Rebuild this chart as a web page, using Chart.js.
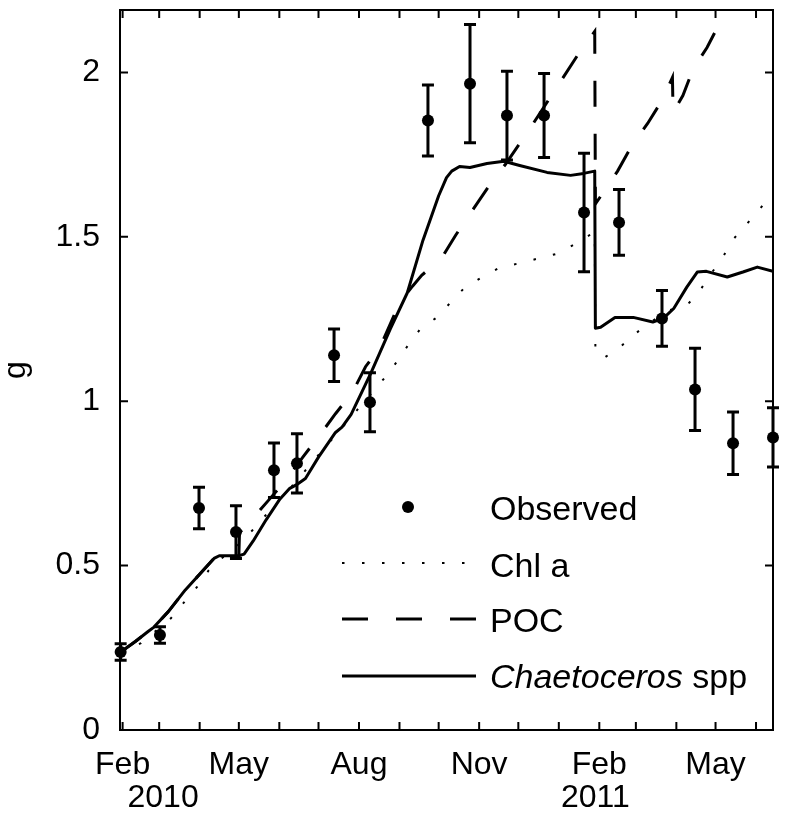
<!DOCTYPE html>
<html>
<head>
<meta charset="utf-8">
<script src="https://cdn.jsdelivr.net/npm/chart.js@4"></script>
<style>
  html, body { margin: 0; padding: 0; background: #fff; }
</style>
</head>
<body>
<canvas id="myChart" width="790" height="818"></canvas>
<script>
// x values are days counted from 1 Feb 2010
const monthDays = [0, 28, 59, 89, 120, 150, 181, 212, 242, 273, 303, 334, 365, 393, 424, 454, 485];
const monthLabels = {0: 'Feb', 89: 'May', 181: 'Aug', 273: 'Nov', 365: 'Feb', 454: 'May'};
const yearLabels = ['2010', '2011'];
const yearDays = [31, 362];
const yTicks = [0, 0.5, 1, 1.5, 2];

// Observed (mean and error)
const obsDays = [-1.5, 28.6, 58.5, 86.8, 115.9, 133.5, 161.9, 189.4, 233.8, 266, 294.3, 322.7, 353.3, 380.1, 413, 438.3, 467.4, 498];
const obsValues = [0.237, 0.289, 0.675, 0.602, 0.79, 0.811, 1.14, 0.997, 1.854, 1.966, 1.869, 1.869, 1.574, 1.544, 1.252, 1.036, 0.872, 0.89];
const obsErr = [0.025, 0.025, 0.063, 0.08, 0.083, 0.09, 0.08, 0.09, 0.108, 0.18, 0.135, 0.128, 0.18, 0.10, 0.085, 0.125, 0.095, 0.09];

// Chl a model
const chlDays = [-1.5, 14, 37, 47, 57, 66, 75, 82, 89, 100, 111, 125, 140, 155, 171, 181, 201, 210, 219, 228, 241, 251, 262, 275, 289, 303, 318, 334, 347, 361.5, 362, 368, 381, 393, 406, 419, 432, 441, 450, 459, 467, 477, 487, 498];
const chlValues = [0.237, 0.264, 0.34, 0.388, 0.435, 0.486, 0.52, 0.54, 0.565, 0.61, 0.66, 0.72, 0.79, 0.86, 0.933, 0.98, 1.073, 1.12, 1.173, 1.22, 1.256, 1.30, 1.346, 1.377, 1.407, 1.419, 1.434, 1.45, 1.48, 1.515, 1.16, 1.13, 1.165, 1.207, 1.245, 1.277, 1.292, 1.33, 1.385, 1.434, 1.49, 1.535, 1.58, 1.635];

// POC model
const pocDays = [-1.5, 10, 19, 24, 35, 48, 60, 70, 74, 89, 89.5, 100, 112, 125, 138, 151, 163, 176, 186, 197, 205, 212, 222, 229, 237, 245, 255, 266, 279, 293, 312, 348, 361.5, 362, 368, 379, 390, 402, 413, 421, 421.5, 429, 437, 447.5, 461, 475];
const pocValues = [0.237, 0.27, 0.298, 0.313, 0.36, 0.426, 0.478, 0.522, 0.53, 0.53, 0.60, 0.645, 0.70, 0.76, 0.83, 0.897, 0.962, 1.027, 1.105, 1.164, 1.235, 1.30, 1.35, 1.383, 1.41, 1.44, 1.505, 1.57, 1.646, 1.72, 1.83, 2.05, 2.125, 1.60, 1.635, 1.70, 1.778, 1.845, 1.915, 1.985, 1.878, 1.93, 2.012, 2.076, 2.18, 2.29];

// Chaetoceros spp model
const chaetDays = [-1.5, 10, 19, 24, 35, 48, 60, 70, 74, 89, 93, 100, 110, 120, 128, 134, 140, 150, 163, 168, 175, 190, 205, 218, 230, 242, 248, 252, 258, 266, 279, 292, 304, 325, 343, 353, 361.5, 362, 366, 377, 391, 406, 414, 422, 432, 440, 447, 463, 475, 486, 498];
const chaetValues = [0.237, 0.27, 0.298, 0.313, 0.36, 0.426, 0.478, 0.522, 0.53, 0.53, 0.535, 0.575, 0.64, 0.70, 0.735, 0.748, 0.765, 0.83, 0.905, 0.921, 0.96, 1.085, 1.22, 1.33, 1.49, 1.625, 1.68, 1.70, 1.714, 1.711, 1.723, 1.73, 1.717, 1.696, 1.687, 1.693, 1.70, 1.222, 1.225, 1.255, 1.255, 1.241, 1.252, 1.282, 1.347, 1.393, 1.395, 1.378, 1.393, 1.408, 1.395];

const toPoints = (xs, ys) => xs.map((d, i) => ({x: d, y: ys[i]}));
const FONT = '"Liberation Sans", Arial, Helvetica, sans-serif';

// no extra room for labels at the ends of an axis
function noEdgePadding(scale) {
    scale.paddingTop = 0;
    scale.paddingBottom = 0;
    scale.paddingLeft = 0;
    scale.paddingRight = 0;
}

// error bars, box, inward ticks, year labels and the legend
const extras = {
    id: 'extras',
    afterDatasetsDraw(chart) {
        const ctx = chart.ctx;
        const xs = chart.scales.x;
        const ys = chart.scales.y;
        const a = chart.chartArea;
        ctx.save();
        ctx.strokeStyle = '#000';
        ctx.fillStyle = '#000';

        ctx.lineWidth = 3;
        obsDays.forEach((d, i) => {
            const px = xs.getPixelForValue(d);
            const top = ys.getPixelForValue(obsValues[i] + obsErr[i]);
            const bot = ys.getPixelForValue(obsValues[i] - obsErr[i]);
            ctx.beginPath();
            ctx.moveTo(px, top); ctx.lineTo(px, bot);
            ctx.moveTo(px - 6, top); ctx.lineTo(px + 6, top);
            ctx.moveTo(px - 6, bot); ctx.lineTo(px + 6, bot);
            ctx.stroke();
        });

        ctx.lineWidth = 2;
        ctx.beginPath();
        xs.ticks.forEach((t, i) => {
            const px = xs.getPixelForTick(i);
            ctx.moveTo(px, a.bottom); ctx.lineTo(px, a.bottom - 8);
            ctx.moveTo(px, a.top); ctx.lineTo(px, a.top + 8);
        });
        ys.ticks.forEach((t, i) => {
            const py = ys.getPixelForTick(i);
            ctx.moveTo(a.left, py); ctx.lineTo(a.left + 8, py);
            ctx.moveTo(a.right, py); ctx.lineTo(a.right - 8, py);
        });
        ctx.stroke();
        ctx.strokeRect(a.left, a.top, a.right - a.left, a.bottom - a.top);

        ctx.font = '32px ' + FONT;
        ctx.textAlign = 'center';
        ctx.textBaseline = 'alphabetic';
        yearLabels.forEach((s, i) => ctx.fillText(s, xs.getPixelForValue(yearDays[i]), 807));

        // legend
        const lx0 = 342, lx1 = 476, tx = 490;
        ctx.beginPath();
        ctx.arc(408, 507, 6, 0, Math.PI * 2);
        ctx.fill();

        ctx.lineWidth = 2;
        ctx.setLineDash([2.5, 17.5]);
        ctx.beginPath(); ctx.moveTo(lx0, 563); ctx.lineTo(lx1, 563); ctx.stroke();

        ctx.lineWidth = 3;
        ctx.setLineDash([26, 28]);
        ctx.beginPath(); ctx.moveTo(lx0, 619); ctx.lineTo(lx1, 619); ctx.stroke();

        ctx.setLineDash([]);
        ctx.beginPath(); ctx.moveTo(lx0, 676); ctx.lineTo(lx1, 676); ctx.stroke();

        ctx.textAlign = 'left';
        ctx.font = '34px ' + FONT;
        ctx.fillText('Observed', tx, 520);
        ctx.fillText('Chl a', tx, 577);
        ctx.fillText('POC', tx, 632);
        ctx.font = 'italic 34px ' + FONT;
        ctx.fillText('Chaetoceros', tx, 688);
        const w = ctx.measureText('Chaetoceros ').width;
        ctx.font = '34px ' + FONT;
        ctx.fillText('spp', tx + w, 688);
        ctx.restore();
    }
};

var ctx = document.getElementById('myChart').getContext('2d');
var myChart = new Chart(ctx, {
    type: 'line',
    data: {
        datasets: [
            {
                label: 'Observed',
                data: toPoints(obsDays, obsValues),
                showLine: false,
                pointRadius: 6,
                pointBackgroundColor: '#000',
                pointBorderWidth: 0,
                borderColor: '#000',
                clip: false
            },
            {
                label: 'Chl a',
                data: toPoints(chlDays, chlValues),
                borderColor: '#000',
                borderWidth: 2,
                borderDash: [2.5, 17.5],
                pointRadius: 0,
                tension: 0
            },
            {
                label: 'POC',
                data: toPoints(pocDays, pocValues),
                borderColor: '#000',
                borderWidth: 3,
                borderDash: [26, 27],
                pointRadius: 0,
                tension: 0
            },
            {
                label: 'Chaetoceros spp',
                data: toPoints(chaetDays, chaetValues),
                borderColor: '#000',
                borderWidth: 3,
                borderJoinStyle: 'round',
                pointRadius: 0,
                tension: 0
            }
        ]
    },
    options: {
        responsive: false,
        animation: false,
        events: [],
        layout: { padding: { top: 10, right: 17, bottom: 0, left: 0 } },
        plugins: { legend: { display: false }, tooltip: { enabled: false } },
        scales: {
            x: {
                type: 'linear',
                min: -2,
                max: 498,
                afterBuildTicks: scale => { scale.ticks = monthDays.map(v => ({ value: v })); },
                afterFit: scale => { scale.height = 88; noEdgePadding(scale); },
                grid: { display: false },
                border: { display: false },
                ticks: {
                    autoSkip: false,
                    maxRotation: 0,
                    padding: 8,
                    color: '#000',
                    font: { family: FONT, size: 32 },
                    callback: value => monthLabels[value] || ''
                }
            },
            y: {
                min: 0,
                max: 2.19,
                afterBuildTicks: scale => { scale.ticks = yTicks.map(v => ({ value: v })); },
                afterFit: scale => { scale.width = 120; noEdgePadding(scale); },
                grid: { display: false },
                border: { display: false },
                ticks: {
                    padding: 12,
                    color: '#000',
                    font: { family: FONT, size: 32 },
                    callback: value => String(value)
                },
                title: {
                    display: true,
                    text: 'g',
                    color: '#000',
                    font: { family: FONT, size: 32 },
                    padding: { top: -3, bottom: 0 }
                }
            }
        }
    },
    plugins: [extras]
});
</script>
</body>
</html>
